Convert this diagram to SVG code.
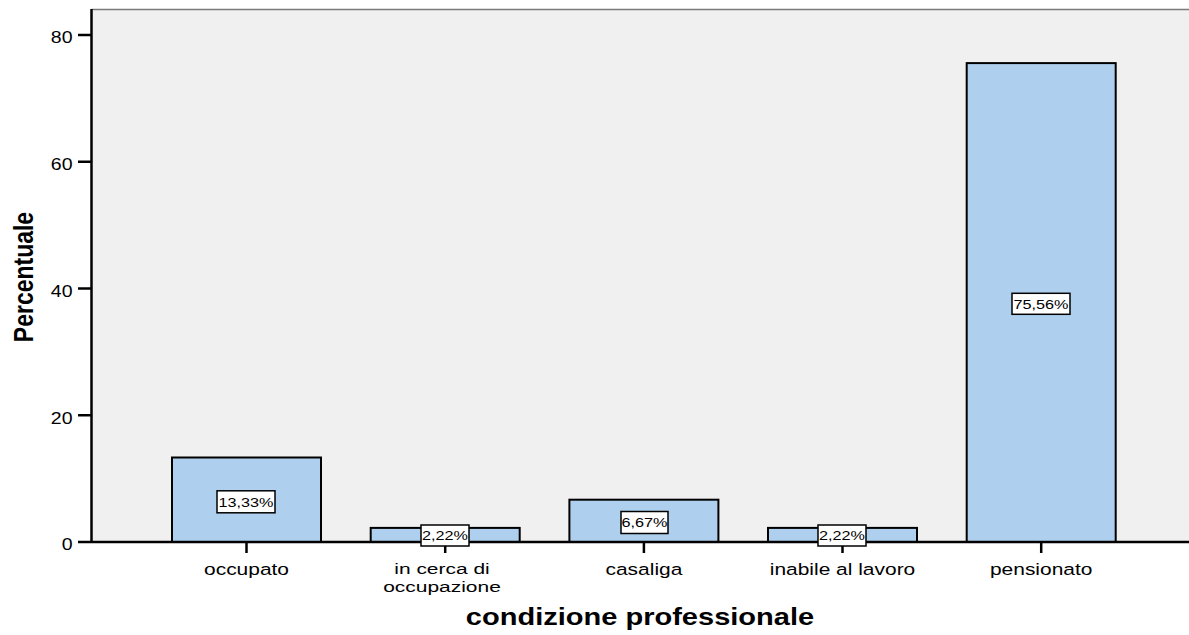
<svg xmlns="http://www.w3.org/2000/svg" width="1189" height="635" viewBox="0 0 1189 635">
<style>
  text { font-family: "Liberation Sans", Arial, sans-serif; fill: #000; }
  .tick { font-size: 16px; text-anchor: end; }
  .cat { font-size: 16.5px; text-anchor: middle; }
  .cat2 { font-size: 15.4px; text-anchor: middle; }
  .val { font-size: 13.5px; text-anchor: middle; }
  .title { font-size: 24px; font-weight: bold; text-anchor: middle; }
  .bar { fill: #aed0ee; stroke: #000; stroke-width: 2; }
  .box { fill: #fff; stroke: #000; stroke-width: 1.5; }
  .axis { stroke: #000; stroke-width: 2.5; fill: none; }
</style>
<rect width="1189" height="635" fill="#fff"/>
<g id="plot-area">
  <rect x="91.5" y="9" width="1097.5" height="533" fill="#f0f0f0"/>
  <line x1="91.5" y1="9.5" x2="1189" y2="9.5" stroke="#7a7a7a" stroke-width="1.5"/>
</g>
<g id="bars">
  <g id="bar-occupato"><rect class="bar" x="172" y="457.5" width="149" height="84.5"/></g>
  <g id="bar-incerca"><rect class="bar" x="370.7" y="527.9" width="149" height="14.1"/></g>
  <g id="bar-casaliga"><rect class="bar" x="569.4" y="499.7" width="149" height="42.3"/></g>
  <g id="bar-inabile"><rect class="bar" x="768" y="527.9" width="149" height="14.1"/></g>
  <g id="bar-pensionato"><rect class="bar" x="966.7" y="63.1" width="149" height="478.9"/></g>
</g>
<g id="axes">
  <line class="axis" x1="91.5" y1="9" x2="91.5" y2="542"/>
  <line class="axis" x1="78" y1="542" x2="1189" y2="542"/>
  <line class="axis" x1="78" y1="35" x2="91.5" y2="35"/>
  <line class="axis" x1="78" y1="161.75" x2="91.5" y2="161.75"/>
  <line class="axis" x1="78" y1="288.5" x2="91.5" y2="288.5"/>
  <line class="axis" x1="78" y1="415.25" x2="91.5" y2="415.25"/>
  <line class="axis" x1="246.5" y1="542" x2="246.5" y2="553"/>
  <line class="axis" x1="445.2" y1="542" x2="445.2" y2="553"/>
  <line class="axis" x1="643.9" y1="542" x2="643.9" y2="553"/>
  <line class="axis" x1="842.5" y1="542" x2="842.5" y2="553"/>
  <line class="axis" x1="1041.2" y1="542" x2="1041.2" y2="553"/>
</g>
<g id="y-labels">
  <text class="tick" transform="translate(72.5,43.3) scale(1.22,1)">80</text>
  <text class="tick" transform="translate(72.5,170) scale(1.22,1)">60</text>
  <text class="tick" transform="translate(72.5,296.8) scale(1.22,1)">40</text>
  <text class="tick" transform="translate(72.5,423.5) scale(1.22,1)">20</text>
  <text class="tick" transform="translate(72.5,550) scale(1.22,1)">0</text>
  <text class="title" transform="translate(33,277) scale(1.22,1) rotate(-90)" style="font-size:23px">Percentuale</text>
</g>
<g id="value-labels">
  <g id="val-occupato">
    <rect class="box" x="217" y="490.8" width="58" height="22"/>
    <text class="val" transform="translate(246,506.6) scale(1.2,1)">13,33%</text>
  </g>
  <g id="val-incerca">
    <rect class="box" x="421" y="525" width="48" height="21"/>
    <text class="val" transform="translate(445,540.4) scale(1.2,1)">2,22%</text>
  </g>
  <g id="val-casaliga">
    <rect class="box" x="621" y="511.5" width="47" height="22"/>
    <text class="val" transform="translate(644.5,527.4) scale(1.2,1)">6,67%</text>
  </g>
  <g id="val-inabile">
    <rect class="box" x="818" y="525" width="48" height="21"/>
    <text class="val" transform="translate(842,540.4) scale(1.2,1)">2,22%</text>
  </g>
  <g id="val-pensionato">
    <rect class="box" x="1012" y="293.3" width="58" height="21"/>
    <text class="val" transform="translate(1041,308.7) scale(1.2,1)">75,56%</text>
  </g>
</g>
<g id="category-labels">
  <text class="cat" transform="translate(246.5,575) scale(1.27,1)">occupato</text>
  <text class="cat2" transform="translate(442,574) scale(1.36,1)">in cerca di</text>
  <text class="cat2" transform="translate(442,591.5) scale(1.36,1)">occupazione</text>
  <text class="cat" transform="translate(643.9,575) scale(1.27,1)">casaliga</text>
  <text class="cat" transform="translate(842.5,575) scale(1.27,1)">inabile al lavoro</text>
  <text class="cat" transform="translate(1041.2,575) scale(1.27,1)">pensionato</text>
</g>
<g id="x-title">
  <text class="title" transform="translate(640,625) scale(1.21,1)">condizione professionale</text>
</g>
</svg>
